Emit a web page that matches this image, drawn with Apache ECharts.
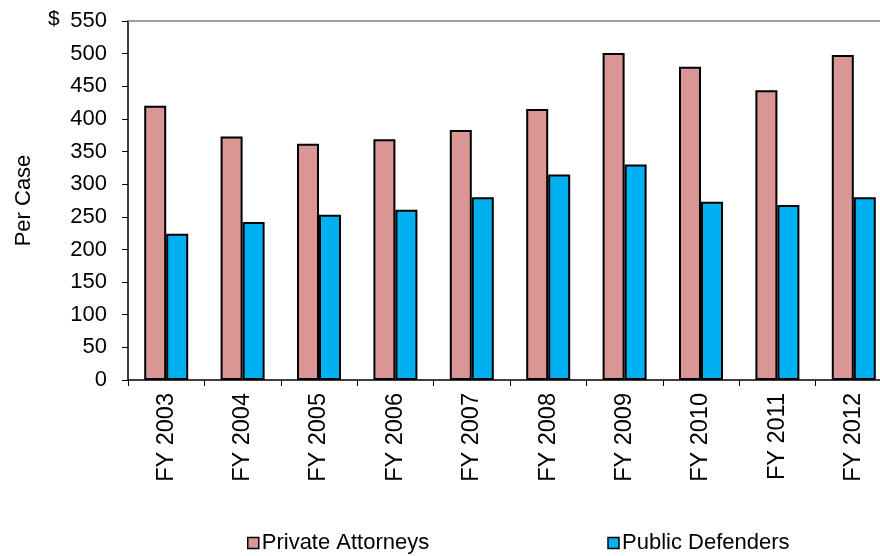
<!DOCTYPE html>
<html>
<head>
<meta charset="utf-8">
<script src="https://cdn.jsdelivr.net/npm/echarts@6/dist/echarts.min.js"></script>
<style>html,body{margin:0;padding:0;background:#fff;overflow:hidden;width:880px;height:556px;}#c{width:900px;height:556px;}</style>
</head>
<body>
<div id="c"></div>
<script>
const categories = ['FY 2003','FY 2004','FY 2005','FY 2006','FY 2007','FY 2008','FY 2009','FY 2010','FY 2011','FY 2012'];
const privateAttorneys = [420, 373, 362, 369, 383, 415, 501, 480, 444, 498];
const publicDefenders = [224, 242, 253, 261, 280, 315, 330, 273, 268, 280];
const seriesNames = ['Private Attorneys', 'Public Defenders'];
const yTicks = {min: 0, max: 550, interval: 50};

const font = 'Arial, "Liberation Sans", sans-serif';
const chart = echarts.init(document.getElementById('c'), null, {renderer: 'canvas', width: 900, height: 556});
chart.setOption({
  animation: false,
  backgroundColor: '#ffffff',
  textStyle: {fontFamily: font, color: '#000'},
  grid: {left: 128, top: 21, width: 764, height: 359, containLabel: false},
  legend: {
    data: seriesNames,
    left: 242, top: 527,
    itemWidth: 11, itemHeight: 11, itemGap: 178,
    icon: 'rect',
    itemStyle: {borderColor: '#000', borderWidth: 1.5},
    textStyle: {fontFamily: font, fontSize: 22, color: '#000', padding: [0,0,0,-2]}
  },
  graphic: [{
    type: 'text', left: 48, top: 9,
    style: {text: '$', font: '21px ' + font, fill: '#000'}
  }],
  xAxis: [{
    type: 'category', data: categories, position: 'bottom',
    axisLine: {lineStyle: {color: '#000', width: 1.5}},
    axisTick: {show: true, length: 6, lineStyle: {color: '#000'}},
    axisLabel: {rotate: 90, fontSize: 23.5, color: '#000', fontFamily: font, margin: 13, interval: 0}
  }, {
    type: 'category', data: categories, position: 'top',
    axisLine: {show: true, lineStyle: {color: '#808080', width: 1.5}},
    axisTick: {show: false}, axisLabel: {show: false}
  }],
  yAxis: {
    type: 'value', min: yTicks.min, max: yTicks.max, interval: yTicks.interval,
    name: 'Per Case', nameLocation: 'middle', nameGap: 93,
    nameTextStyle: {fontSize: 22, color: '#000', fontFamily: font},
    axisLine: {show: true, lineStyle: {color: '#000', width: 1.5}},
    axisTick: {show: true, length: 6, lineStyle: {color: '#000'}},
    axisLabel: {fontSize: 22, color: '#000', fontFamily: font, margin: 21},
    splitLine: {show: false}
  },
  series: [{
    name: seriesNames[0], type: 'bar', data: privateAttorneys,
    barWidth: 22, barGap: '0%',
    itemStyle: {color: '#D99694', borderColor: '#000', borderWidth: 2}
  }, {
    name: seriesNames[1], type: 'bar', data: publicDefenders,
    barWidth: 22, barGap: '0%',
    itemStyle: {color: '#00B0F0', borderColor: '#000', borderWidth: 2}
  }]
});
</script>
</body>
</html>
